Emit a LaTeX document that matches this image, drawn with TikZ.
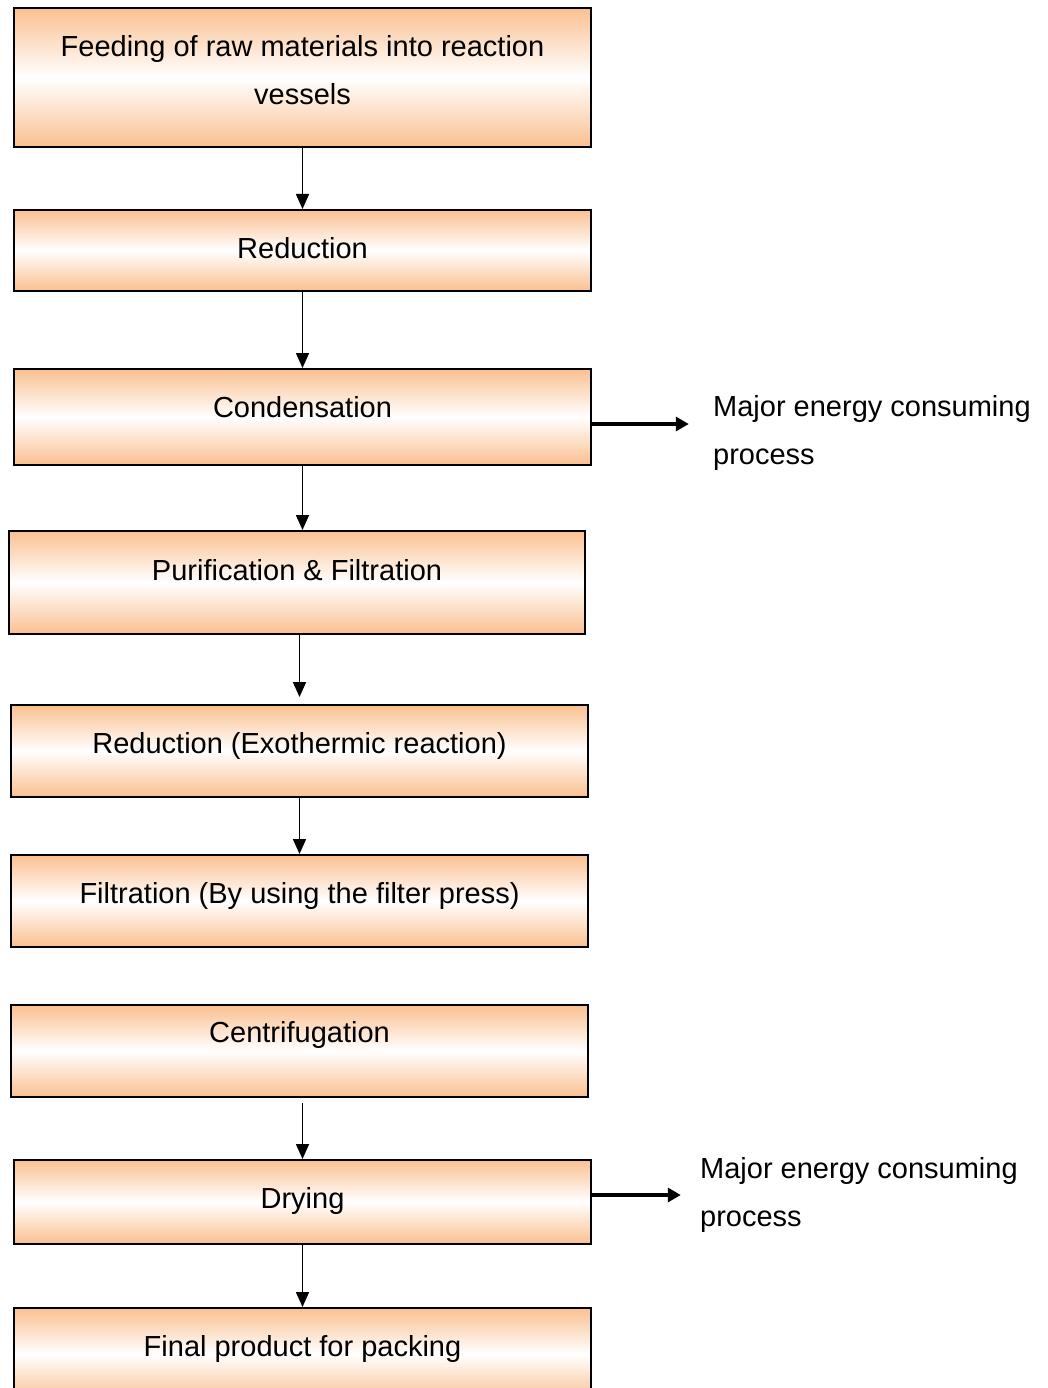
\documentclass[tikz,border=0pt]{standalone}
\usepackage{fontspec}
\setmainfont{Liberation Sans}
\usepackage{tikz}
\usetikzlibrary{arrows.meta}
\definecolor{boxorange}{RGB}{250,192,144}
\tikzset{%
  stepbox/.style = {rectangle,draw,line width=1.6pt,inner xsep=0pt,
        inner ysep=0pt,minimum width=577pt,anchor=north,
        top color=boxorange,bottom color=boxorange,middle color=white},
  flow/.style = {-{Triangle[length=15pt,width=13pt]},line width=1.6pt},
  side/.style = {-{Triangle[length=13pt,width=14pt]},line width=3.2pt},
  note/.style = {anchor=west,align=left,inner sep=0pt}
}

\begin{document}
\begin{tikzpicture}[x=1pt,y=-1pt,font=\fontsize{29}{48}\selectfont]
    \useasboundingbox (0,0) rectangle (1047,1388);
    \node[stepbox,align=center,text height=97pt,text depth=42pt] (feed) at (302.5,7)
        {Feeding of raw materials into reaction\\vessels};
    \node[stepbox,text height=49pt,text depth=32pt] (red) at (302.5,209) {Reduction};
    \node[stepbox,text height=49pt,text depth=47pt] (cond) at (302.5,368) {Condensation};
    \node[stepbox,minimum width=576pt,text height=50pt,text depth=53pt] (pur) at (297,530)
        {Purification \& Filtration};
    \node[stepbox,text height=49pt,text depth=43pt] (exo) at (299.5,704)
        {Reduction (Exothermic reaction)};
    \node[stepbox,text height=49pt,text depth=43pt] (filt) at (299.5,854)
        {Filtration (By using the filter press)};
    \node[stepbox,text height=38pt,text depth=54pt] (cent) at (299.5,1004) {Centrifugation};
    \node[stepbox,text height=49pt,text depth=35pt] (dry) at (302.5,1159) {Drying};
    \node[stepbox,text height=49pt,text depth=44pt] (final) at (302.5,1307)
        {Final product for packing};

    % energy notes
    \node[note] (note1) at (713,433) {Major energy consuming\\process};
    \node[note] (note2) at (700,1195) {Major energy consuming\\process};

    \draw[flow] (feed.south) -- (feed.south |- red.north);
    \draw[flow] (red.south) -- (red.south |- cond.north);
    \draw[flow] (cond.south) -- (cond.south |- pur.north);
    \draw[flow,shorten >=7pt] (pur.south -| exo.north) -- (exo.north);
    \draw[flow] (exo.south) -- (filt.north);
    \draw[flow] (dry.north |- cent.south) ++(0,5) -- (dry.north);
    \draw[flow] (dry.south) -- (final.north);

    \draw[side] (cond.east |- 0,424) -- ++(97,0) coordinate (tip1);
    \draw[side] (dry.east |- 0,1195) -- ++(89,0) coordinate (tip2);
\end{tikzpicture}
\end{document}
